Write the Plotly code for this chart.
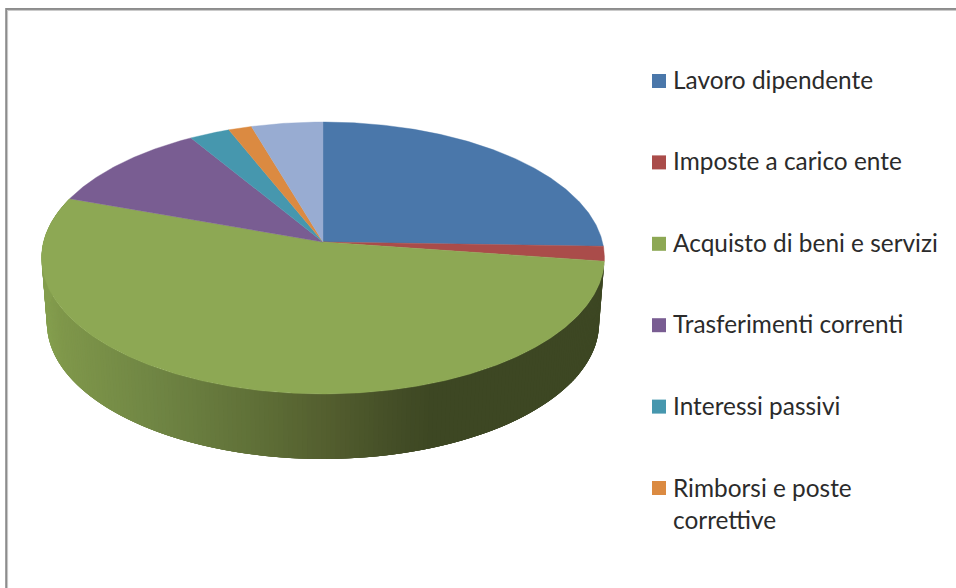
import numpy as np
import plotly.graph_objects as go

categories = ["Lavoro dipendente", "Imposte a carico ente", "Acquisto di beni e servizi",
              "Trasferimenti correnti", "Interessi passivi", "Rimborsi e poste correttive", "Altre spese"]
values = [25.5, 1.75, 53.2, 10.85, 2.6, 1.5, 4.6]
legend_labels = ["Lavoro dipendente", "Imposte a carico ente", "Acquisto di beni e servizi",
                 "Trasferimenti correnti", "Interessi passivi", "Rimborsi e poste<br>correttive"]
colors = ["#4a77aa", "#aa4c4a", "#8da854", "#795d92", "#4697ae", "#db8a41", "#98acd2"]

# Projection of the tilted pie onto the page (pixel-like axis units)
CX, CY, R, B, K = 323.0, 242.0, 279.5, 134.1, 0.1176
DEPTH, BOTTOM_SCALE = 65.0, 0.981


def rim(theta):
    w = 1 + K * np.cos(theta)
    return CX + R * np.sin(theta) / w, CY - B * np.cos(theta) / w


shade_x = [45, 60, 150, 250, 323, 400, 432, 610]
shade_rgb = np.array([[0x84, 0x9e, 0x4e], [0x7f, 0x97, 0x4a], [0x70, 0x86, 0x44], [0x60, 0x71, 0x38],
                      [0x54, 0x5f, 0x2f], [0x43, 0x4d, 0x26], [0x3d, 0x47, 0x23], [0x3d, 0x47, 0x23]])


def shade(x):
    c = [int(round(np.interp(x, shade_x, shade_rgb[:, i]))) for i in range(3)]
    return f"rgb({c[0]},{c[1]},{c[2]})"


fractions = np.cumsum([0] + values) / sum(values) * 2 * np.pi
fig = go.Figure()

# wall of the pie, in bands painted in order, each overlapping the next so no seams show
a0, a1 = fractions[2], fractions[3]
edges = np.linspace(a0, a1, 220)
step = edges[1] - edges[0]
for t0, t1 in zip(edges[:-1], edges[1:]):
    ts = np.linspace(t0, min(t1 + 3 * step, a1), 6)
    tx, ty = rim(ts)
    bx = CX + (tx - CX) * BOTTOM_SCALE
    by = ty + DEPTH
    xs = np.concatenate([tx, bx[::-1], tx[:1]])
    ys = np.concatenate([ty, by[::-1], ty[:1]])
    col = shade(float(rim((t0 + t1) / 2)[0]))
    fig.add_trace(go.Scatter(x=xs, y=ys, mode="lines", fill="toself", fillcolor=col,
                             line=dict(color=col, width=0), hoverinfo="skip", showlegend=False))

# top faces
for i, name in enumerate(categories):
    ts = np.linspace(fractions[i], fractions[i + 1], max(8, int(values[i] * 8)))
    rx, ry = rim(ts)
    xs = np.concatenate([[CX], rx, [CX]])
    ys = np.concatenate([[CY], ry, [CY]])
    fig.add_trace(go.Scatter(x=xs, y=ys, mode="lines", fill="toself", fillcolor=colors[i],
                             line=dict(color=colors[i], width=0.4), name=name,
                             hoverinfo="name", showlegend=False))

# legend
legend_x, legend_y0, legend_step, text_x = 659, 81, 81.4, 673
legend_y = [legend_y0 + legend_step * i for i in range(len(legend_labels))]
fig.add_trace(go.Scatter(x=[legend_x] * len(legend_labels), y=legend_y, mode="markers",
                         marker=dict(symbol="square", size=14, color=colors[:len(legend_labels)]),
                         hoverinfo="skip", showlegend=False))
annotations = []
for label, y in zip(legend_labels, legend_y):
    extra = 15 if "<br>" in label else -1.5
    annotations.append(dict(x=text_x, y=y + extra, xref="x", yref="y", text=label, showarrow=False,
                            xanchor="left", yanchor="middle", align="left", borderpad=0, borderwidth=0,
                            font=dict(family="Lato", size=24.4, color="#2b2b2b")))

shapes = [
    dict(type="rect", xref="x", yref="y", x0=6.2, y0=9, x1=980, y1=610,
         line=dict(color="#8c8c8c", width=2), fillcolor="rgba(0,0,0,0)"),
    dict(type="rect", xref="x", yref="y", x0=7.6, y0=10.4, x1=980, y1=610,
         line=dict(color="#c4c4c4", width=1), fillcolor="rgba(0,0,0,0)"),
]

fig.update_layout(
    width=956, height=588, autosize=False,
    margin=dict(l=0, r=0, t=0, b=0),
    paper_bgcolor="white", plot_bgcolor="white",
    xaxis=dict(range=[0, 956], visible=False, fixedrange=True),
    yaxis=dict(range=[588, 0], visible=False, fixedrange=True),
    annotations=annotations, shapes=shapes,
)
fig.write_html("out.html", config={"displayModeBar": False},
               post_script="document.body.style.margin='0';")
